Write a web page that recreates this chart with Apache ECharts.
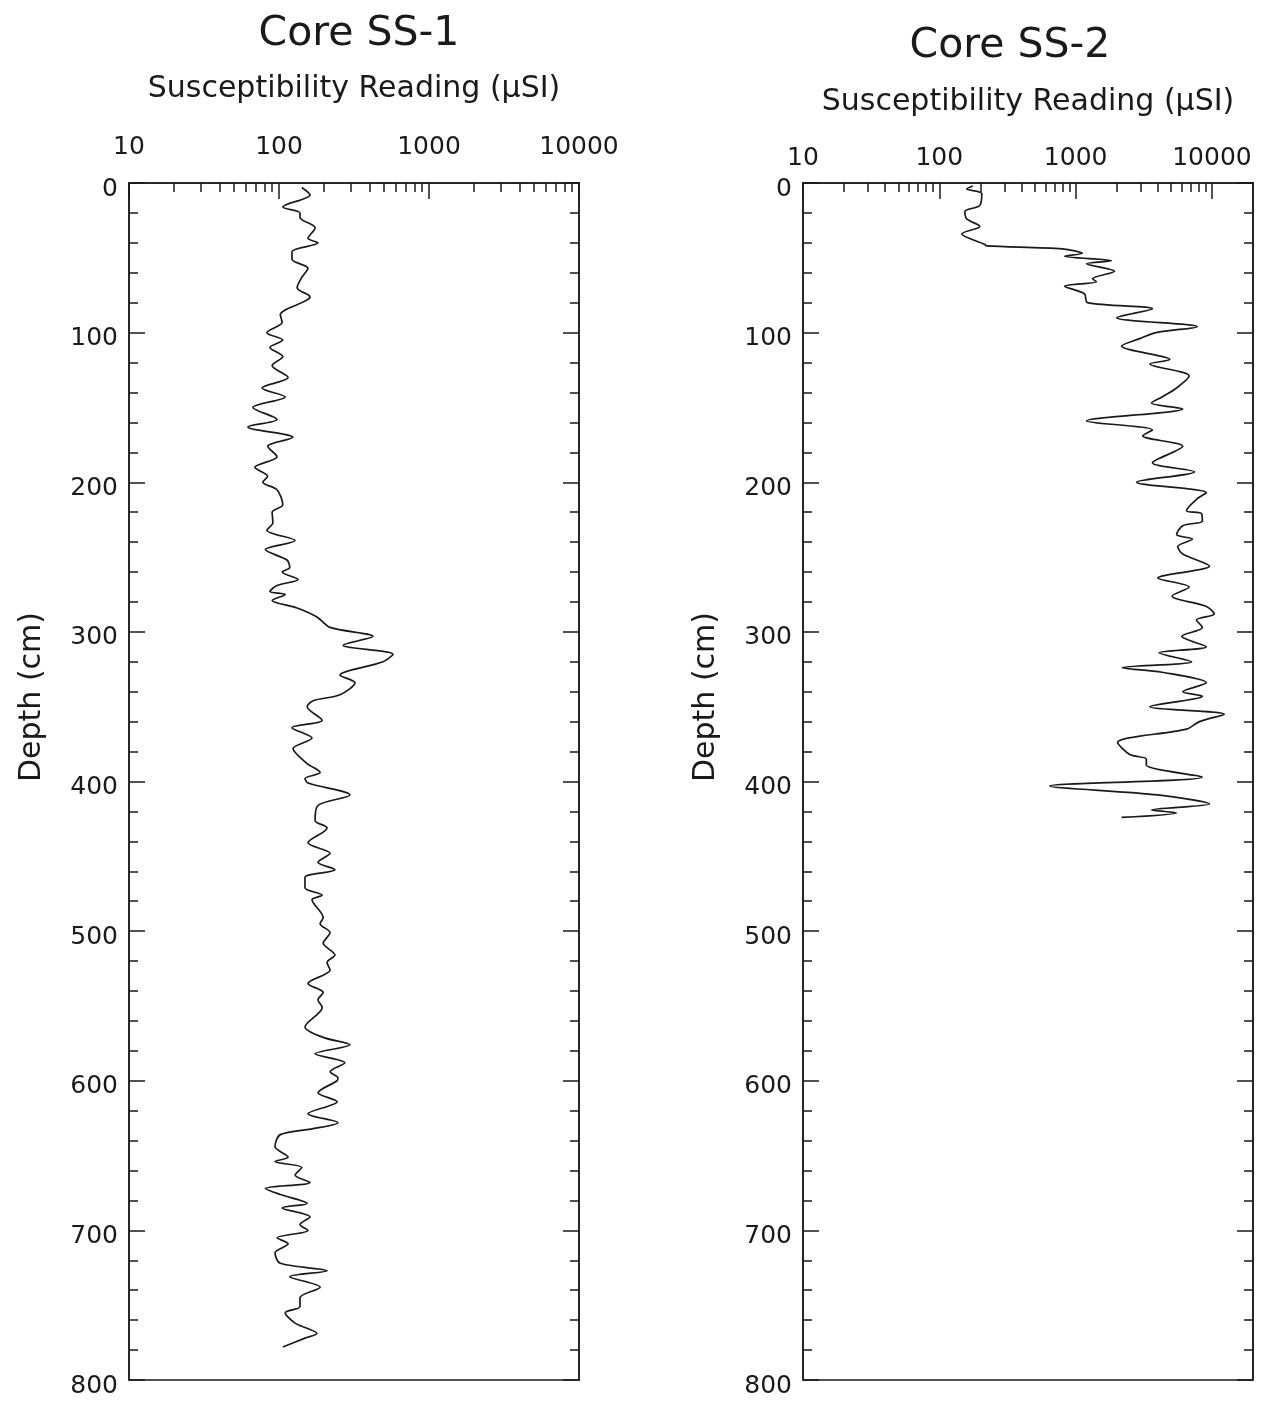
<!DOCTYPE html>
<html><head><meta charset="utf-8">
<script src="https://cdn.jsdelivr.net/npm/echarts@6/dist/echarts.min.js"></script>
<style>html,body{margin:0;padding:0;background:#fff}#c{width:1269px;height:1403px}</style>
</head><body><div id="c"></div>
<script>
// ---- data (depth in cm, susceptibility in µSI) ----
const titles = ['Core SS-1', 'Core SS-2'];
const xName = 'Susceptibility Reading (\u03bcSI)';
const yName = 'Depth (cm)';

const depthSS1 = [3,8,16,20,23,30,37,40,46,51,57,63,70,76,88,93,100,105,110,116,122,130,137,143,150,158,163,170,176,183,190,196,
  200,205,215,220,227,232,239,245,252,257,260,265,269,273,275,279,284,290,297,303,309,315,320,329,334,342,346,350,359,364,371,378,388,394,398,
  401,409,416,426,431,441,448,454,459,464,471,476,479,491,495,501,508,516,521,526,535,541,546,551,564,571,576,582,588,594,598,
  600,608,614,622,628,632,636,644,651,654,658,663,668,672,676,682,685,691,696,700,705,709,715,722,727,731,738,745,751,755,762,769,772,778];
const suscSS1 = [142,161,106,138,138,174,156,182,122,122,156,142,132,161,102,105,83,106,87,106,90,115,77,110,67,97,62,124,84,97,69,84,
  78,97,106,90,91,83,128,81,113,118,105,134,97,87,110,90,132,179,219,423,267,575,494,255,321,255,169,154,194,122,166,124,154,188,149,
  156,297,182,174,209,156,219,182,236,149,149,194,166,197,188,219,197,236,209,219,156,197,182,194,149,197,297,174,275,219,247,
  244,182,244,156,247,169,102,94,115,94,142,128,161,81,102,154,105,161,138,156,97,115,94,102,209,118,188,138,138,110,128,179,149,106];

const depthSS2 = [2,4,7,15,19,24,29,34,41,42,44,47,49,52,54,59,64,66,69,74,80,84,90,96,100,104,109,118,121,129,137,143,147,151,159,165,169,176,187,193,200,
  207,211,219,221,226,229,235,238,243,248,256,264,270,276,283,288,292,297,303,310,314,320,324,327,334,340,343,350,355,360,365,374,382,385,389,397,403,409,415,419,421,424];
const suscSS2 = [176,159,205,198,154,159,198,146,215,223,800,1120,830,1830,1200,1930,1330,1420,830,1160,1220,3660,2000,7800,3900,2950,2170,4900,3500,6800,5500,4300,3600,6100,1200,3660,3100,6100,3660,7450,2800,
  9100,7800,6500,8400,8500,6100,5500,7200,5600,6100,9600,4000,6800,5100,9100,10400,7700,8500,6000,9100,4100,7100,2200,4300,9100,6100,8500,3500,12300,8100,6500,2030,2490,3300,3300,8500,645,4000,9600,3600,5500,2170];

const xMajorTicks = [10, 100, 1000, 10000];
const xMinorTicks = [20,30,40,50,60,70,80,90,200,300,400,500,600,700,800,900,2000,3000,4000,5000,6000,7000,8000,9000];
const xMax = [10000, 20000];
const depthMax = 800;
const depthStep = 100;

// ---- chart ----
const FONT = 'DejaVu Sans';
const INK = '#1a1a1a';
const chart = echarts.init(document.getElementById('c'), null, {renderer: 'canvas'});

const grids = [
  {left: 129, top: 183, width: 450, height: 1197},
  {left: 803, top: 183, width: 450, height: 1197}
];
const labelMargin = [23, 12];
const nameGap = [79, 66];

const xAxes = [], yAxes = [], series = [];
grids.forEach((g, i) => {
  xAxes.push({
    type: 'log', logBase: 10, gridIndex: i, position: 'top', min: 10, max: xMax[i],
    name: xName, nameLocation: 'middle', nameGap: nameGap[i],
    nameTextStyle: {fontFamily: FONT, fontSize: 30, color: INK},
    axisLine: {show: true, lineStyle: {color: INK, width: 1.5}},
    axisTick: {show: true, inside: true, length: 16, customValues: xMajorTicks, lineStyle: {color: INK, width: 1.5}},
    axisLabel: {show: true, margin: labelMargin[i], customValues: xMajorTicks, formatter: v => String(Math.round(v)),
      fontFamily: FONT, fontSize: 25, color: INK},
    splitLine: {show: false}, minorTick: {show: false}
  });
  xAxes.push({
    type: 'log', logBase: 10, gridIndex: i, position: 'top', min: 10, max: xMax[i],
    axisLine: {show: false},
    axisTick: {show: true, inside: true, length: 9, customValues: xMinorTicks, lineStyle: {color: INK, width: 1.5}},
    axisLabel: {show: false},
    splitLine: {show: false}
  });
  const yCommon = {
    type: 'value', gridIndex: i, min: 0, max: depthMax, interval: depthStep, inverse: true,
    axisLine: {show: true, lineStyle: {color: INK, width: 1.5}},
    axisTick: {show: true, inside: true, length: 16, lineStyle: {color: INK, width: 1.5}},
    minorTick: {show: true, splitNumber: 5, length: 9, lineStyle: {color: INK, width: 1.5}},
    splitLine: {show: false}
  };
  yAxes.push(Object.assign({}, yCommon, {
    position: 'left',
    axisLabel: {show: true, margin: 11, fontFamily: FONT, fontSize: 25, color: INK, verticalAlign: 'top', lineHeight: 12}
  }));
  yAxes.push(Object.assign({}, yCommon, {position: 'right', axisLabel: {show: false}}));
});

series.push({
  type: 'line', xAxisIndex: 0, yAxisIndex: 0, showSymbol: false, smooth: 0.3,
  lineStyle: {color: INK, width: 1.7}, data: suscSS1.map((v, k) => [v, depthSS1[k]])
});
series.push({
  type: 'line', xAxisIndex: 2, yAxisIndex: 2, showSymbol: false, smooth: 0.3,
  lineStyle: {color: INK, width: 1.7}, data: suscSS2.map((v, k) => [v, depthSS2[k]])
});

chart.setOption({
  animation: false,
  backgroundColor: '#fff',
  title: [
    {text: titles[0], left: 354, top: 9, textAlign: 'center', textStyle: {fontFamily: FONT, fontSize: 41, fontWeight: 'normal', color: INK}},
    {text: titles[1], left: 1005, top: 21, textAlign: 'center', textStyle: {fontFamily: FONT, fontSize: 41, fontWeight: 'normal', color: INK}}
  ],
  grid: grids.map(g => Object.assign({show: true, borderColor: INK, borderWidth: 1.5, backgroundColor: 'transparent'}, g)),
  xAxis: xAxes,
  yAxis: yAxes,
  series: series,
  graphic: [
    {type: 'text', x: 32, y: 697, rotation: Math.PI / 2, style: {text: yName, fontFamily: FONT, fontSize: 30, fill: INK, align: 'center', verticalAlign: 'middle'}},
    {type: 'text', x: 706, y: 697, rotation: Math.PI / 2, style: {text: yName, fontFamily: FONT, fontSize: 30, fill: INK, align: 'center', verticalAlign: 'middle'}}
  ]
});
</script></body></html>
